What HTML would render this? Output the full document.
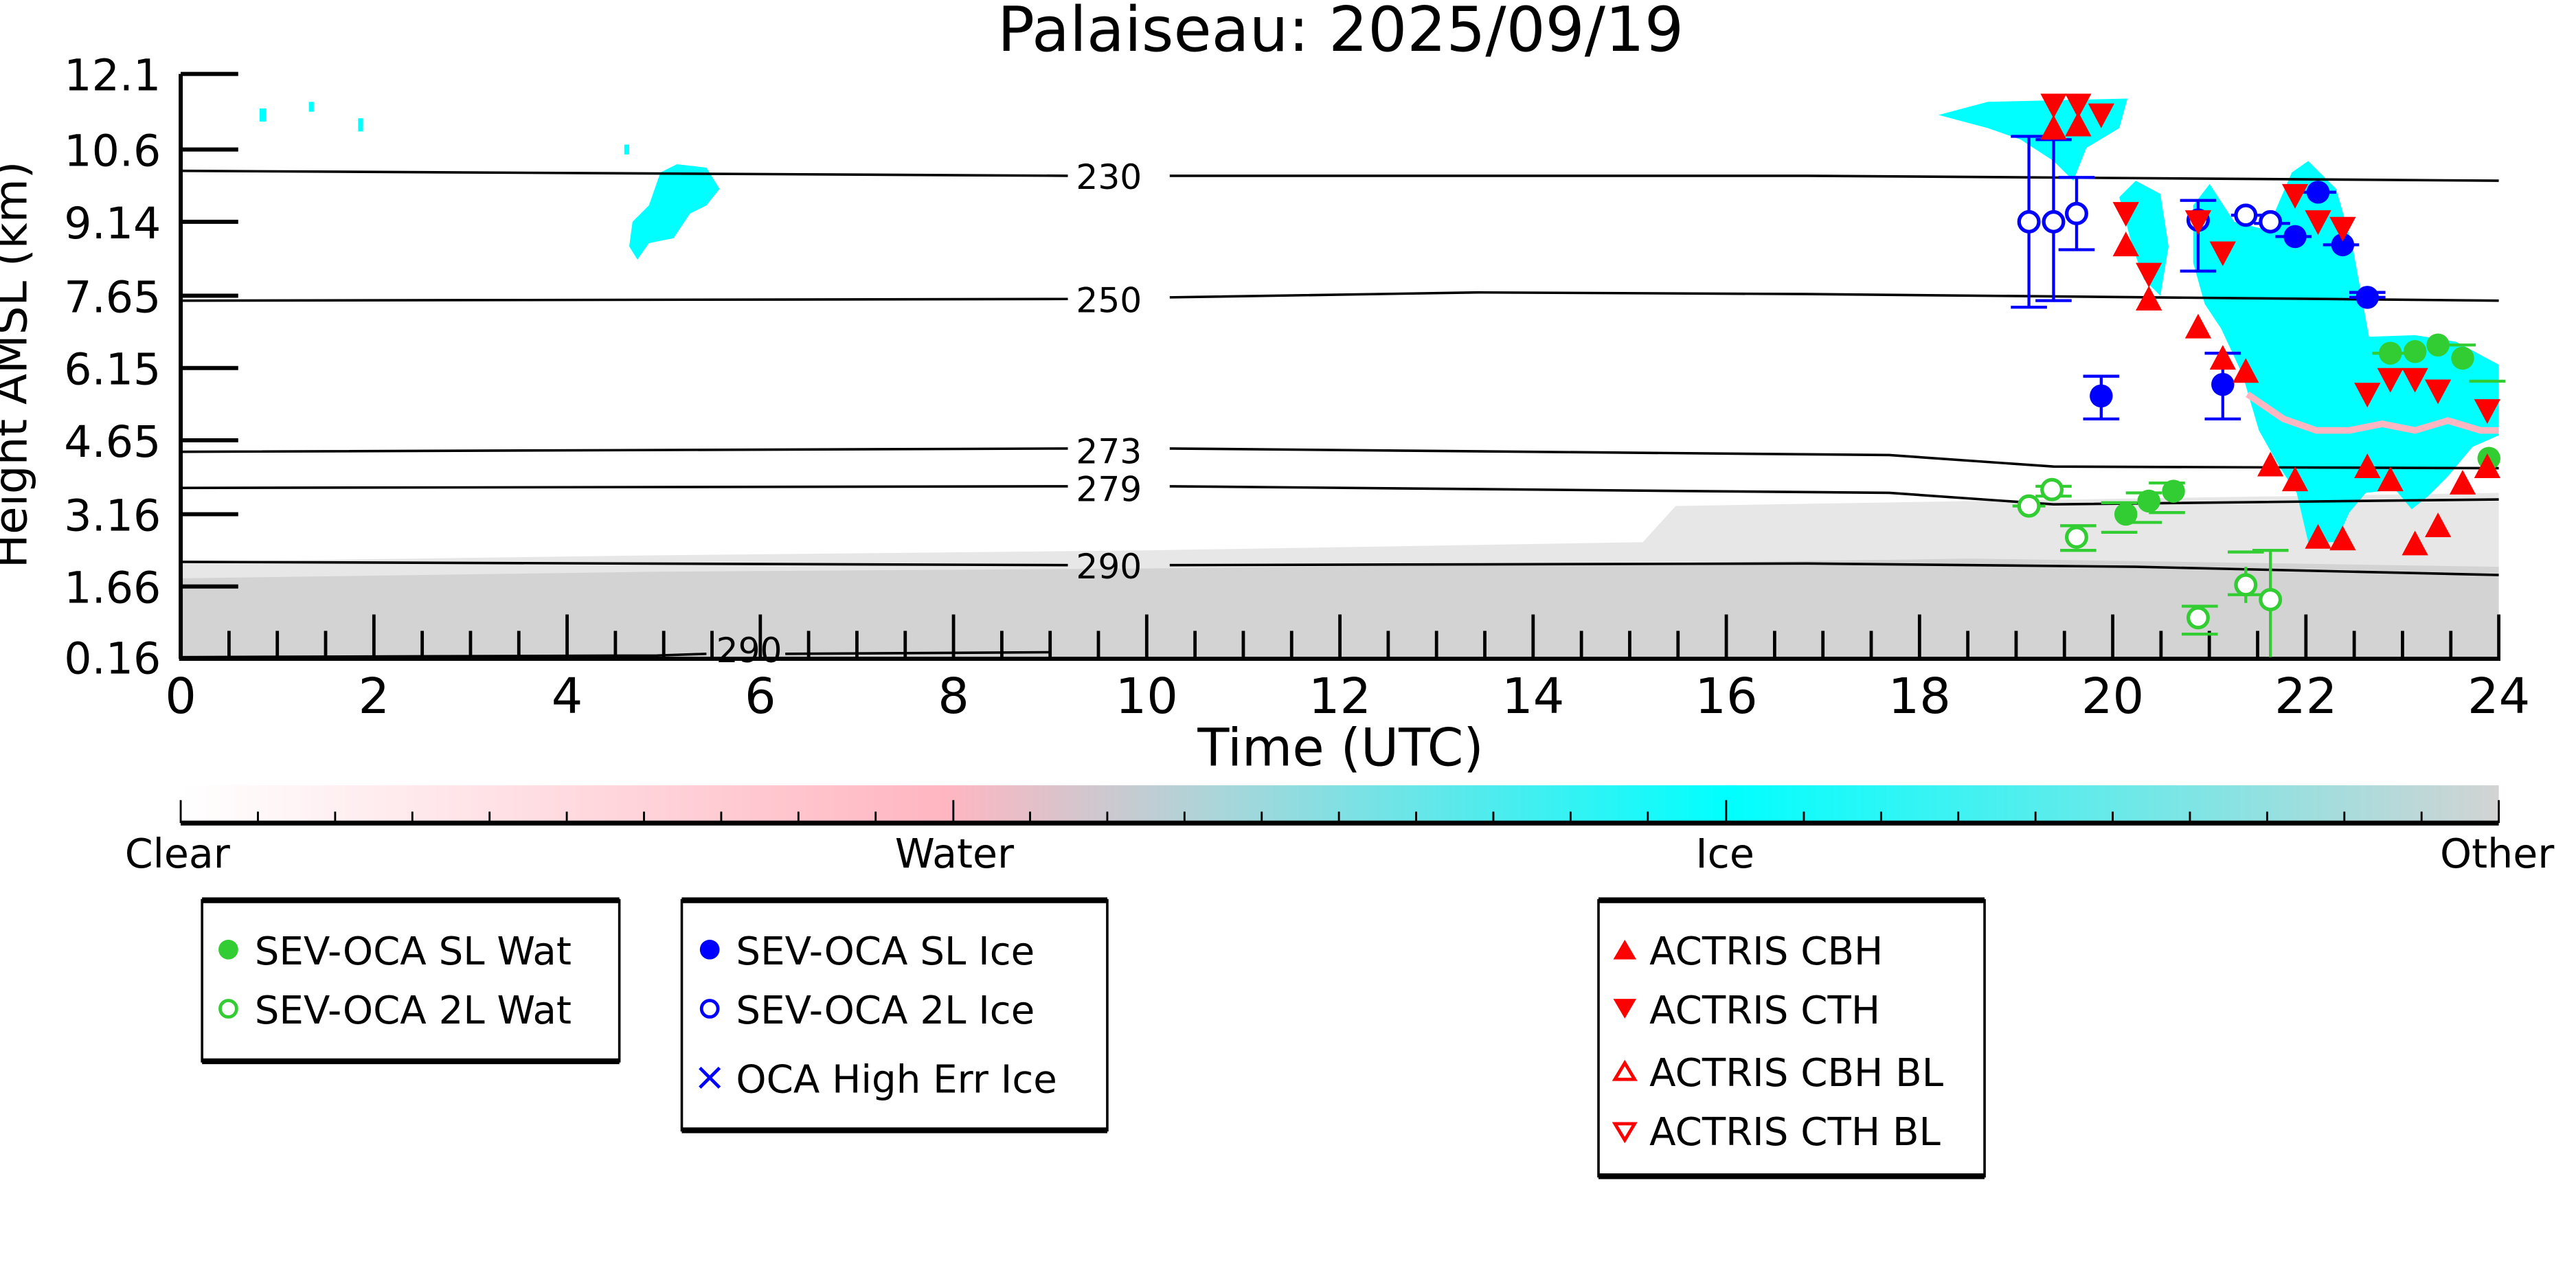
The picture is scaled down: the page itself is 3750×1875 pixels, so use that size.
<!DOCTYPE html>
<html><head><meta charset="utf-8"><style>html,body{margin:0;padding:0;background:#fff}svg{display:block}</style></head>
<body>
<svg width="3750" height="1875" viewBox="0 0 1568 784" xmlns="http://www.w3.org/2000/svg" font-family="'DejaVu Sans','Liberation Sans',sans-serif">
<defs>
<linearGradient id="cb" x1="0" x2="1" y1="0" y2="0">
<stop offset="0" stop-color="#ffffff"/><stop offset="0.33" stop-color="#ffb6c1"/>
<stop offset="0.45" stop-color="#a8d6da"/><stop offset="0.667" stop-color="#00ffff"/><stop offset="1" stop-color="#d3d3d3"/>
</linearGradient>
</defs>
<text x="816" y="31" font-size="37.5" text-anchor="middle">Palaiseau: 2025/09/19</text>
<path d="M110,400 L110,342 L400,338 L700,335 L1000,330 L1020,308 L1200,305 L1521,300 L1521,400 Z" fill="#d3d3d3" opacity="0.55"/>
<path d="M110,400 L110,352 L400,348 L700,346 L1000,343 L1200,340 L1521,345 L1521,400 Z" fill="#d3d3d3"/>
<g fill="#00ffff">
<rect x="158" y="66" width="4" height="8"/><rect x="188" y="62" width="3" height="6"/><rect x="218" y="72" width="3" height="8"/><rect x="380" y="88" width="3" height="6"/>
<path d="M383,150 L385,135 L395,125 L402,105 L412,100 L430,102 L438,115 L430,125 L420,130 L410,145 L395,148 L388,158 Z"/>
<path d="M1180,70 L1210,62 L1295,60 L1290,78 L1270,90 L1262,110 L1250,98 L1230,85 L1210,78 Z"/>
<path d="M1290,120 L1300,110 L1315,118 L1320,150 L1315,180 L1305,170 L1298,150 Z"/>
<path d="M1335,125 L1345,112 L1360,135 L1380,140 L1395,105 L1405,98 L1422,115 L1432,150 L1442,205 L1470,204 L1495,208 L1521,222 L1521,265 L1505,272 L1490,290 L1478,302 L1468,310 L1458,298 L1440,300 L1430,312 L1422,330 L1405,330 L1398,300 L1388,285 L1375,262 L1365,228 L1352,200 L1342,185 L1335,160 Z"/>
</g>
<path d="M1368,240 L1390,255 L1410,262 L1430,262 L1450,258 L1470,262 L1490,256 L1510,262 L1521,262" stroke="#ffb6c1" stroke-width="4" fill="none"/>
<g stroke="#000" stroke-width="1.5" fill="none">
<path d="M110,104 L650,107 M712,107 L1100,107 L1521,110"/>
<path d="M110,183 L650,182 M712,181 L900,178 L1100,179 L1521,183"/>
<path d="M110,275 L650,273 M712,273 L1150,277 L1250,284 L1521,285"/>
<path d="M110,297 L650,296 M712,296 L1150,300 L1250,307 L1521,304"/>
<path d="M110,342 L650,344 M712,344 L1100,343 L1300,345 L1521,350"/>
<path d="M110,400 L400,399 L430,398 M478,398 L640,397"/>
</g>
<g font-size="21" text-anchor="middle">
<text x="675" y="115">230</text><text x="675" y="190">250</text><text x="675" y="282">273</text><text x="675" y="305">279</text><text x="675" y="352">290</text><text x="456" y="403">290</text>
</g>
<g stroke="#000" stroke-width="2.5">
<line x1="110" y1="45" x2="110" y2="401"/><line x1="109" y1="401" x2="1522" y2="401"/>
</g>
<g stroke="#000" stroke-width="2.5">
<line x1="110" y1="45" x2="145" y2="45"/><line x1="110" y1="91" x2="145" y2="91"/><line x1="110" y1="135" x2="145" y2="135"/><line x1="110" y1="180" x2="145" y2="180"/><line x1="110" y1="224" x2="145" y2="224"/><line x1="110" y1="268" x2="145" y2="268"/><line x1="110" y1="313" x2="145" y2="313"/><line x1="110" y1="357" x2="145" y2="357"/>
</g>
<g stroke="#000" stroke-width="2">
<path d="M227.6,401v-27M345.2,401v-27M462.8,401v-27M580.4,401v-27M698,401v-27M815.6,401v-27M933.2,401v-27M1050.8,401v-27M1168.4,401v-27M1286,401v-27M1403.6,401v-27M1521,401v-27"/>
<path d="M139.4,401v-17M168.8,401v-17M198.2,401v-17M257,401v-17M286.4,401v-17M315.8,401v-17M374.6,401v-17M404,401v-17M433.4,401v-17M492.2,401v-17M521.6,401v-17M551,401v-17M609.8,401v-17M639.2,401v-17M668.6,401v-17M727.4,401v-17M756.8,401v-17M786.2,401v-17M845,401v-17M874.4,401v-17M903.8,401v-17M962.6,401v-17M992,401v-17M1021.4,401v-17M1080.2,401v-17M1109.6,401v-17M1139,401v-17M1197.8,401v-17M1227.2,401v-17M1256.6,401v-17M1315.4,401v-17M1344.8,401v-17M1374.2,401v-17M1433,401v-17M1462.4,401v-17M1491.8,401v-17"/>
</g>
<g font-size="26.5" text-anchor="end">
<text x="98" y="55">12.1</text><text x="98" y="101">10.6</text><text x="98" y="145">9.14</text><text x="98" y="190">7.65</text><text x="98" y="234">6.15</text><text x="98" y="278">4.65</text><text x="98" y="323">3.16</text><text x="98" y="367">1.66</text><text x="98" y="410">0.16</text>
</g>
<g font-size="30" text-anchor="middle">
<text x="110" y="434">0</text><text x="227.6" y="434">2</text><text x="345.2" y="434">4</text><text x="462.8" y="434">6</text><text x="580.4" y="434">8</text><text x="698" y="434">10</text><text x="815.6" y="434">12</text><text x="933.2" y="434">14</text><text x="1050.8" y="434">16</text><text x="1168.4" y="434">18</text><text x="1286" y="434">20</text><text x="1403.6" y="434">22</text><text x="1521" y="434">24</text>
<text x="816" y="466" font-size="31.5">Time (UTC)</text>
</g>
<text transform="translate(16,222) rotate(-90)" font-size="27.5" text-anchor="middle">Height AMSL (km)</text>
<g stroke="#0000ff" stroke-width="1.8" fill="none">
<path d="M1235,83V187M1224,83h22M1224,187h22M1250,85V183M1239,85h22M1239,183h22M1264,108V152M1253,108h22M1253,152h22M1338,122V165M1327,122h22M1327,165h22M1279,229V255M1268,229h22M1268,255h22M1353,215V255M1342,215h22M1342,255h22"/>
<path d="M1358,131h20M1372,136h22M1385,144h22M1400,117h22M1414,149h22M1430,181h22M1430,178h22"/>
</g>
<g stroke="#32cd32" stroke-width="1.8" fill="none">
<path d="M1225,308h20M1239,296h22M1239,302h22M1254,320h22M1254,335h22M1279,306h22M1279,324h22M1294,300h22M1294,318h22M1308,294h22M1308,312h22M1328,369h22M1328,386h22M1356,336h22M1356,362h22M1382,335V400M1371,335h22M1367,345v22M1444,215h22M1485,210h22M1503,232h22"/>
</g>
<g fill="#fff" stroke="#0000ff" stroke-width="2.2">
<circle cx="1235" cy="135" r="6"/><circle cx="1250" cy="135" r="6"/><circle cx="1264" cy="130" r="6"/><circle cx="1338" cy="134" r="6"/><circle cx="1367" cy="131" r="6"/><circle cx="1382" cy="135" r="6"/>
</g>
<g fill="#0000ff">
<circle cx="1279" cy="241" r="7"/><circle cx="1353" cy="234" r="7"/><circle cx="1397" cy="144" r="7"/><circle cx="1411" cy="117" r="7"/><circle cx="1426" cy="149" r="7"/><circle cx="1441" cy="181" r="7"/>
</g>
<g fill="#32cd32">
<circle cx="1294" cy="313" r="7"/><circle cx="1308" cy="305" r="7"/><circle cx="1323" cy="299" r="7"/><circle cx="1455" cy="215" r="7"/><circle cx="1470" cy="214" r="7"/><circle cx="1484" cy="210" r="7"/><circle cx="1499" cy="218" r="7"/><circle cx="1515" cy="279" r="7"/>
</g>
<g fill="#fff" stroke="#32cd32" stroke-width="2.2">
<circle cx="1235" cy="308" r="6"/><circle cx="1249" cy="298" r="6"/><circle cx="1264" cy="327" r="6"/><circle cx="1338" cy="376" r="6"/><circle cx="1367" cy="356" r="6"/><circle cx="1382" cy="365" r="6"/>
</g>
<g fill="#ff0000">
<path d="M-8,-7H8L0,8Z" transform="translate(1250,64)"/>
<path d="M-8,-7H8L0,8Z" transform="translate(1265,64)"/><path d="M-8,-7H8L0,8Z" transform="translate(1279,70)"/>
<path d="M-8,-7H8L0,8Z" transform="translate(1294,130)"/><path d="M-8,-7H8L0,8Z" transform="translate(1308,167)"/>
<path d="M-8,-7H8L0,8Z" transform="translate(1338,135)"/><path d="M-8,-7H8L0,8Z" transform="translate(1353,154)"/>
<path d="M-8,-7H8L0,8Z" transform="translate(1397,119)"/><path d="M-8,-7H8L0,8Z" transform="translate(1411,135)"/><path d="M-8,-7H8L0,8Z" transform="translate(1426,139)"/>
<path d="M-8,-7H8L0,8Z" transform="translate(1441,240)"/><path d="M-8,-7H8L0,8Z" transform="translate(1455,231)"/><path d="M-8,-7H8L0,8Z" transform="translate(1470,231)"/><path d="M-8,-7H8L0,8Z" transform="translate(1484,238)"/><path d="M-8,-7H8L0,8Z" transform="translate(1514,250)"/>
<path d="M-8,7H8L0,-8Z" transform="translate(1250,78)"/><path d="M-8,7H8L0,-8Z" transform="translate(1265,76)"/>
<path d="M-8,7H8L0,-8Z" transform="translate(1294,149)"/><path d="M-8,7H8L0,-8Z" transform="translate(1308,182)"/>
<path d="M-8,7H8L0,-8Z" transform="translate(1338,199)"/><path d="M-8,7H8L0,-8Z" transform="translate(1353,218)"/><path d="M-8,7H8L0,-8Z" transform="translate(1367,226)"/>
<path d="M-8,7H8L0,-8Z" transform="translate(1382,283)"/><path d="M-8,7H8L0,-8Z" transform="translate(1397,292)"/>
<path d="M-8,7H8L0,-8Z" transform="translate(1411,327)"/><path d="M-8,7H8L0,-8Z" transform="translate(1426,328)"/>
<path d="M-8,7H8L0,-8Z" transform="translate(1441,284)"/><path d="M-8,7H8L0,-8Z" transform="translate(1455,292)"/><path d="M-8,7H8L0,-8Z" transform="translate(1470,331)"/><path d="M-8,7H8L0,-8Z" transform="translate(1484,320)"/><path d="M-8,7H8L0,-8Z" transform="translate(1499,294)"/><path d="M-8,7H8L0,-8Z" transform="translate(1514,284)"/>
</g>
<rect x="110" y="478" width="1411" height="22" fill="url(#cb)"/>
<line x1="110" y1="501" x2="1521" y2="501" stroke="#000" stroke-width="3"/>
<g stroke="#000" stroke-width="1.2">
<path d="M110,501v-14M580.3,501v-14M1050.7,501v-14M1521,501v-14"/>
<path d="M157,501v-7M204,501v-7M251,501v-7M298,501v-7M345,501v-7M392,501v-7M439,501v-7M486,501v-7M533,501v-7M627,501v-7M674,501v-7M721,501v-7M768,501v-7M815,501v-7M862,501v-7M909,501v-7M956,501v-7M1003,501v-7M1098,501v-7M1145,501v-7M1192,501v-7M1239,501v-7M1286,501v-7M1333,501v-7M1380,501v-7M1427,501v-7M1474,501v-7"/>
</g>
<g font-size="24.5" text-anchor="middle">
<text x="108" y="528">Clear</text><text x="581" y="528">Water</text><text x="1050" y="528">Ice</text><text x="1520" y="528">Other</text>
</g>
<g fill="none" stroke="#000">
<rect x="123" y="548" width="254" height="98" stroke-width="1.5"/><path d="M123,548h254M123,646h254" stroke-width="3.5"/>
<rect x="415" y="548" width="259" height="140" stroke-width="1.5"/><path d="M415,548h259M415,688h259" stroke-width="3.5"/>
<rect x="973" y="548" width="235" height="168" stroke-width="1.5"/><path d="M973,548h235M973,716h235" stroke-width="3.5"/>
</g>
<g font-size="23.5">
<circle cx="139" cy="578" r="6" fill="#32cd32"/><text x="155" y="587">SEV-OCA SL Wat</text>
<circle cx="139" cy="614" r="5" fill="#fff" stroke="#32cd32" stroke-width="2"/><text x="155" y="623">SEV-OCA 2L Wat</text>
<circle cx="432" cy="578" r="6" fill="#0000ff"/><text x="448" y="587">SEV-OCA SL Ice</text>
<circle cx="432" cy="614" r="5" fill="#fff" stroke="#0000ff" stroke-width="2"/><text x="448" y="623">SEV-OCA 2L Ice</text>
<path d="M426,650l12,12M438,650l-12,12" stroke="#0000ff" stroke-width="2"/><text x="448" y="665">OCA High Err Ice</text>
<path d="M982,584h14l-7,-12Z" fill="#ff0000"/><text x="1004" y="587">ACTRIS CBH</text>
<path d="M982,608h14l-7,12Z" fill="#ff0000"/><text x="1004" y="623">ACTRIS CTH</text>
<path d="M983,657h12l-6,-10Z" fill="none" stroke="#ff0000" stroke-width="2"/><text x="1004" y="661">ACTRIS CBH BL</text>
<path d="M983,684h12l-6,10Z" fill="none" stroke="#ff0000" stroke-width="2"/><text x="1004" y="697">ACTRIS CTH BL</text>
</g>
</svg>
</body></html>
